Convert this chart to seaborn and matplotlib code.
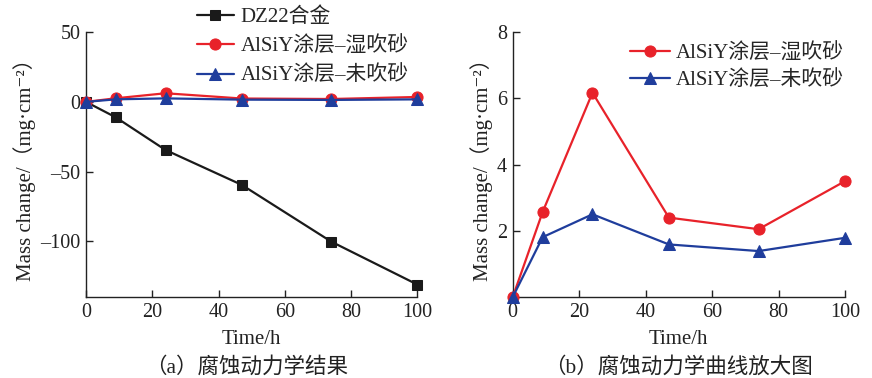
import matplotlib
matplotlib.use("Agg")
import matplotlib.pyplot as plt
from matplotlib.ticker import FuncFormatter
import seaborn as sns
import pandas as pd

sns.set_theme(style="ticks")
plt.rcParams['font.family'] = ['Liberation Serif', 'Noto Sans CJK SC', 'DejaVu Sans']

time_h = [0, 9, 24, 47, 74, 100]
dz22 = [0, -11.1, -34.5, -59.5, -100.2, -131.0]
wet = [0, 2.57, 6.17, 2.40, 2.05, 3.50]
unblasted = [0, 1.81, 2.50, 1.59, 1.39, 1.79]

name_dz = "DZ22合金"
name_wet = "AlSiY涂层\u2013湿吹砂"
name_un = "AlSiY涂层\u2013未吹砂"

caption_a = "（a）腐蚀动力学结果"
caption_b = "（b）腐蚀动力学曲线放大图"
xlabel = "Time/h"
ylabel = "Mass change/（mg·cm\u207b\u00b2）"

c_black = "#1a1a1a"
c_red = "#e8222a"
c_blue = "#1f3d9c"
c_text = "#222222"

fig = plt.figure(figsize=(8.72, 3.78), dpi=100)
ax1 = fig.add_axes([0.0986, 0.214, 0.380, 0.701])
ax2 = fig.add_axes([0.588, 0.214, 0.381, 0.701])

TFS = 14.5
LFS = 15
CFS = 15.5

fmt = FuncFormatter(lambda v, p: f"{v:g}".replace("-", "\u2013"))

def draw(ax, series):
    for vals, name, color, marker, ms in series:
        df = pd.DataFrame({"t": time_h, "v": vals})
        sns.lineplot(data=df, x="t", y="v", ax=ax, color=color, marker=marker,
                     markersize=ms, linewidth=1.6, markeredgecolor=color,
                     label=name, zorder=3, clip_on=False)
    ax.set_xlim(0, 100)
    ax.set_xticks([0, 20, 40, 60, 80, 100])
    ax.yaxis.set_major_formatter(fmt)
    for s in ["top", "right"]:
        ax.spines[s].set_visible(False)
    for s in ["left", "bottom"]:
        ax.spines[s].set_color(c_text)
        ax.spines[s].set_linewidth(1.0)
    ax.tick_params(direction="in", length=5, width=1.0, labelsize=TFS, colors=c_text,
                   labelcolor=c_text, pad=4)
    ax.set_xlabel(xlabel, fontsize=LFS, color=c_text, labelpad=6)
    ax.set_ylabel(ylabel, fontsize=LFS, color=c_text, labelpad=3)

draw(ax1, [(dz22, name_dz, c_black, "s", 7.5),
           (wet, name_wet, c_red, "o", 8),
           (unblasted, name_un, c_blue, "^", 8.5)])
ax1.set_ylim(-140, 50)
ax1.set_yticks([-100, -50, 0, 50])
ax1.legend(loc="upper left", bbox_to_anchor=(0.296, 1.14), frameon=False, fontsize=LFS,
           handlelength=1.8, handletextpad=0.3, labelspacing=0.45, borderpad=0.1)

draw(ax2, [(wet, name_wet, c_red, "o", 8),
           (unblasted, name_un, c_blue, "^", 8.5)])
ax2.set_ylim(0, 8)
ax2.set_yticks([2, 4, 6, 8])
ax2.legend(loc="upper right", bbox_to_anchor=(1.035, 1.005), frameon=False, fontsize=LFS,
           handlelength=1.9, handletextpad=0.3, labelspacing=0.35, borderpad=0.1)

fig.text(0.283, 0.027, caption_a, ha="center", va="center", fontsize=CFS, color=c_text)
fig.text(0.778, 0.027, caption_b, ha="center", va="center", fontsize=CFS, color=c_text)

fig.savefig("out.png", dpi=100)
